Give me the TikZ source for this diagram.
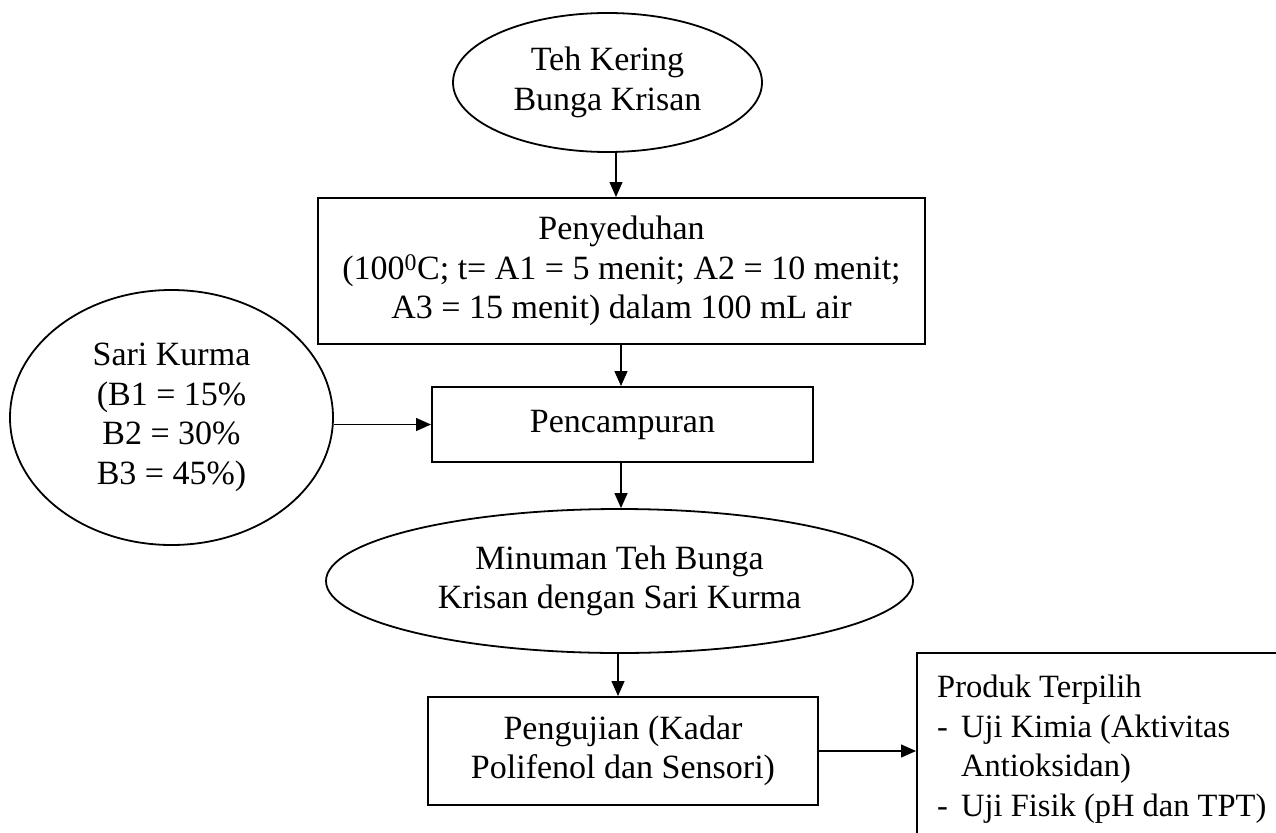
\documentclass[tikz,border=0pt]{standalone}
\usepackage{fontspec}
\setmainfont{Liberation Serif}
\usetikzlibrary{shapes.geometric,arrows.meta}
\newcommand\diafont{\fontsize{34}{39.5}\selectfont}
\newcommand\prodfont{\fontsize{32.5}{39.5}\selectfont}
\begin{document}
\begin{tikzpicture}[x=1pt,y=-1pt,
  box/.style={draw,line width=2pt,inner sep=0pt,align=center,font=\diafont},
  oval/.style={draw,ellipse,line width=1.8pt,inner sep=0pt,align=center,font=\diafont},
  arr/.style={line width=1.3pt,-{Triangle[length=15pt,width=13pt]}}]
\useasboundingbox (0,0) rectangle (1276,832);
\node[oval,minimum width=309pt,minimum height=139pt] (teh) at (607.5,82.5) {Teh Kering\\Bunga Krisan};
\node[box,minimum width=607pt,minimum height=146pt] (seduh) at (621.5,271) {Penyeduhan\\(100\textsuperscript{0}C; t= A1 = 5 menit; A2 = 10 menit;\\A3 = 15 menit) dalam 100 mL air};
\node[box,minimum width=381pt,minimum height=75pt] (campur) at (622.5,424.5) {Pencampuran};
\node[oval,minimum width=323pt,minimum height=255pt] (sari) at (171.5,417.5) {Sari Kurma\\(B1 = 15\%\\B2 = 30\%\\B3 = 45\%)};
\node[oval,minimum width=587pt,minimum height=144pt] (minum) at (619.5,581) {Minuman Teh Bunga\\Krisan dengan Sari Kurma};
\node[box,minimum width=390pt,minimum height=108pt] (uji) at (623,751) {Pengujian (Kadar\\Polifenol dan Sensori)};
\node[draw,line width=2pt,inner sep=0pt,minimum width=380pt,minimum height=200pt,anchor=north west] (produk) at (916,652) {};
\node[anchor=north west,inner sep=0pt,align=left,font=\prodfont] (produktext) at (937,675) {Produk Terpilih\\\makebox[24pt][l]{-}Uji Kimia (Aktivitas\\\hspace*{24pt}Antioksidan)\\\makebox[24pt][l]{-}Uji Fisik (pH dan TPT)};
\coordinate (c1) at (616,0);
\coordinate (c2) at (621,0);
\coordinate (c3) at (618,0);
\draw[arr] (teh.south -| c1) -- (seduh.north -| c1);
\draw[arr] (seduh.south -| c2) -- (campur.north -| c2);
\draw[arr] (sari.east |- campur.west) -- (campur.west);
\draw[arr] (campur.south -| c2) -- (minum.north -| c2);
\draw[arr] (minum.south -| c3) -- (uji.north -| c3);
\draw[arr] (uji.east) -- (uji.east -| produk.west);
\end{tikzpicture}
\end{document}
